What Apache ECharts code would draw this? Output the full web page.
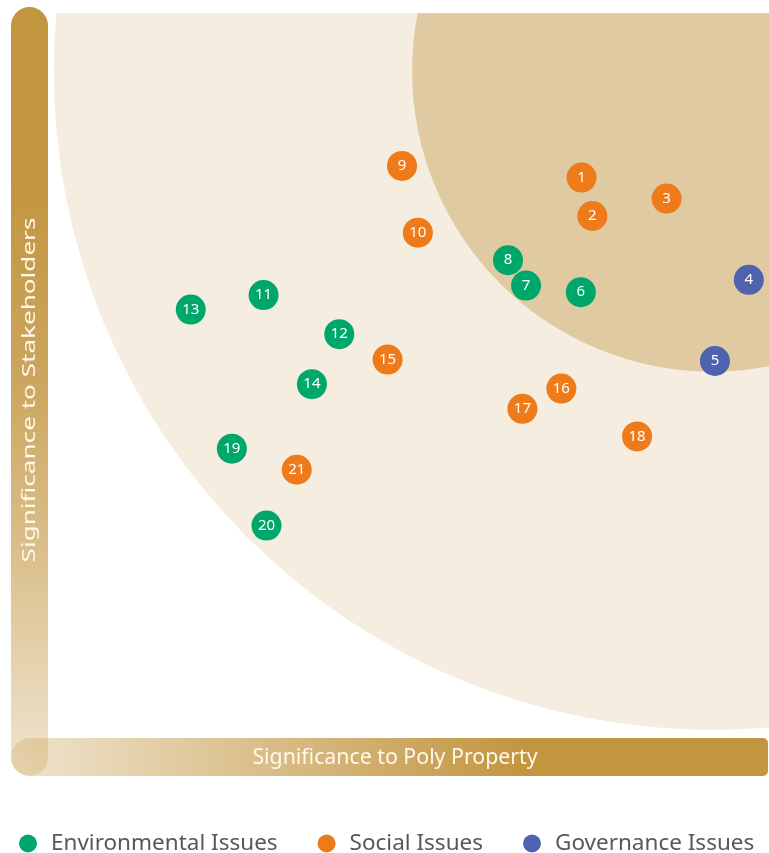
<!DOCTYPE html>
<html>
<head>
<meta charset="utf-8">
<script src="https://cdn.jsdelivr.net/npm/echarts@6/dist/echarts.min.js"></script>
<style>
html, body { margin: 0; padding: 0; background: #fff; }
#chart { width: 769px; height: 853px; }
</style>
</head>
<body>
<div id="chart"></div>
<script>
// issue numbers and their scores (x: significance to Poly Property, y: significance to stakeholders)
var issueNo = [1, 2, 3, 4, 5, 6, 7, 8, 9, 10, 11, 12, 13, 14, 15, 16, 17, 18, 19, 20, 21];
var propertyScore = [74.0, 75.5, 85.8, 97.2, 92.5, 73.9, 66.3, 63.8, 49.1, 51.3, 29.9, 40.4, 19.8, 36.6, 47.1, 71.2, 65.8, 81.7, 25.5, 30.3, 34.5];
var stakeholderScore = [77.3, 72.0, 74.4, 63.2, 52.0, 61.5, 62.4, 65.9, 78.9, 69.7, 61.1, 55.7, 59.1, 48.8, 52.2, 48.2, 45.4, 41.6, 39.9, 29.3, 37.0];
// 0 = environmental, 1 = social, 2 = governance
var issueType = [1, 1, 1, 2, 2, 0, 0, 0, 1, 1, 0, 0, 0, 0, 1, 1, 1, 1, 0, 0, 1];

var typeNames = ['Environmental Issues', 'Social Issues', 'Governance Issues'];
var typeColors = ['#00A76A', '#EE7A1A', '#4E62AF'];

// background zones: centre and radius in axis units
var zoneCenterX = [92.2, 92.2];
var zoneCenterY = [92, 92];
var zoneRadius = [91.4, 41.7];
var zoneColors = ['#F4EDE0', '#E0CAA1'];

var xAxisTitle = 'Significance to Poly Property';
var yAxisTitle = 'Significance to Stakeholders';

var chart = echarts.init(document.getElementById('chart'));

var zoneData = [];
for (var i = 0; i < zoneRadius.length; i++)
{
	zoneData.push([zoneCenterX[i], zoneCenterY[i], zoneRadius[i], i]);
}

var series =
[
	{
		type: 'custom',
		silent: true,
		z: 1,
		data: zoneData,
		renderItem: function(params, api)
		{
			var c = api.coord([api.value(0), api.value(1)]);
			var r = api.size([api.value(2), 0])[0];
			var cs = params.coordSys;
			return {
				type: 'circle',
				shape: { cx: c[0], cy: c[1], r: r },
				style: { fill: zoneColors[api.value(3)] },
				clipPath: { type: 'rect', shape: { x: cs.x, y: cs.y, width: cs.width, height: cs.height } }
			};
		}
	}
];

for (var t = 0; t < typeNames.length; t++)
{
	var data = [];
	for (var k = 0; k < issueNo.length; k++)
	{
		if (issueType[k] === t)
			data.push([propertyScore[k], stakeholderScore[k], issueNo[k]]);
	}
	series.push({
		name: typeNames[t],
		type: 'scatter',
		z: 3,
		symbol: 'circle',
		symbolSize: 30,
		itemStyle: { color: typeColors[t], opacity: 1 },
		label:
		{
			show: true,
			position: 'inside',
			color: '#fff',
			fontSize: 15,
			fontFamily: 'Noto Sans',
			formatter: function(p) { return p.value[2]; }
		},
		emphasis: { disabled: true },
		data: data
	});
}

var options =
{
	animation: false,
	grid: { left: 48, right: 0, top: 13, bottom: 115 },
	xAxis: { type: 'value', min: 0, max: 100, show: false },
	yAxis: { type: 'value', min: 0, max: 100, show: false },
	legend:
	{
		data: typeNames,
		left: 14,
		top: 827,
		icon: 'circle',
		itemWidth: 18,
		itemHeight: 18,
		itemGap: 40,
		textStyle: { fontSize: 22.5, color: '#595757', fontFamily: 'Noto Sans', padding: [0, 0, 0, 9] }
	},
	graphic:
	[
		{
			type: 'rect',
			z: 10,
			shape: { x: 11, y: 738, width: 757, height: 38, r: [19, 5, 5, 19] },
			style:
			{
				fill: new echarts.graphic.LinearGradient(0, 0, 1, 0,
				[
					{ offset: 0, color: 'rgba(194,149,63,0.25)' },
					{ offset: 0.32, color: 'rgba(194,149,63,0.6)' },
					{ offset: 0.52, color: 'rgba(194,149,63,0.82)' },
					{ offset: 0.68, color: 'rgba(194,149,63,1)' },
					{ offset: 1, color: 'rgba(194,149,63,1)' }
				])
			}
		},
		{
			type: 'rect',
			z: 10,
			shape: { x: 11, y: 7, width: 37, height: 769, r: 18.5 },
			style:
			{
				fill: new echarts.graphic.LinearGradient(0, 0, 0, 1,
				[
					{ offset: 0, color: 'rgba(194,149,63,1)' },
					{ offset: 0.22, color: 'rgba(194,149,63,1)' },
					{ offset: 0.485, color: 'rgba(194,149,63,0.84)' },
					{ offset: 0.745, color: 'rgba(194,149,63,0.56)' },
					{ offset: 1, color: 'rgba(194,149,63,0.24)' }
				])
			}
		},
		{
			type: 'text',
			z: 11,
			x: 395,
			y: 758,
			style:
			{
				text: xAxisTitle,
				fill: '#FFF8EC',
				fontSize: 21.3,
				fontFamily: 'Noto Sans',
				align: 'center',
				verticalAlign: 'middle'
			}
		},
		{
			type: 'text',
			z: 11,
			x: 30,
			y: 390,
			rotation: Math.PI / 2,
			scaleX: 1.45,
			style:
			{
				text: yAxisTitle,
				fill: '#FFF8EC',
				fontSize: 18,
				fontFamily: 'Noto Sans',
				align: 'center',
				verticalAlign: 'middle'
			}
		}
	],
	series: series
};

chart.setOption(options);
</script>
</body>
</html>
